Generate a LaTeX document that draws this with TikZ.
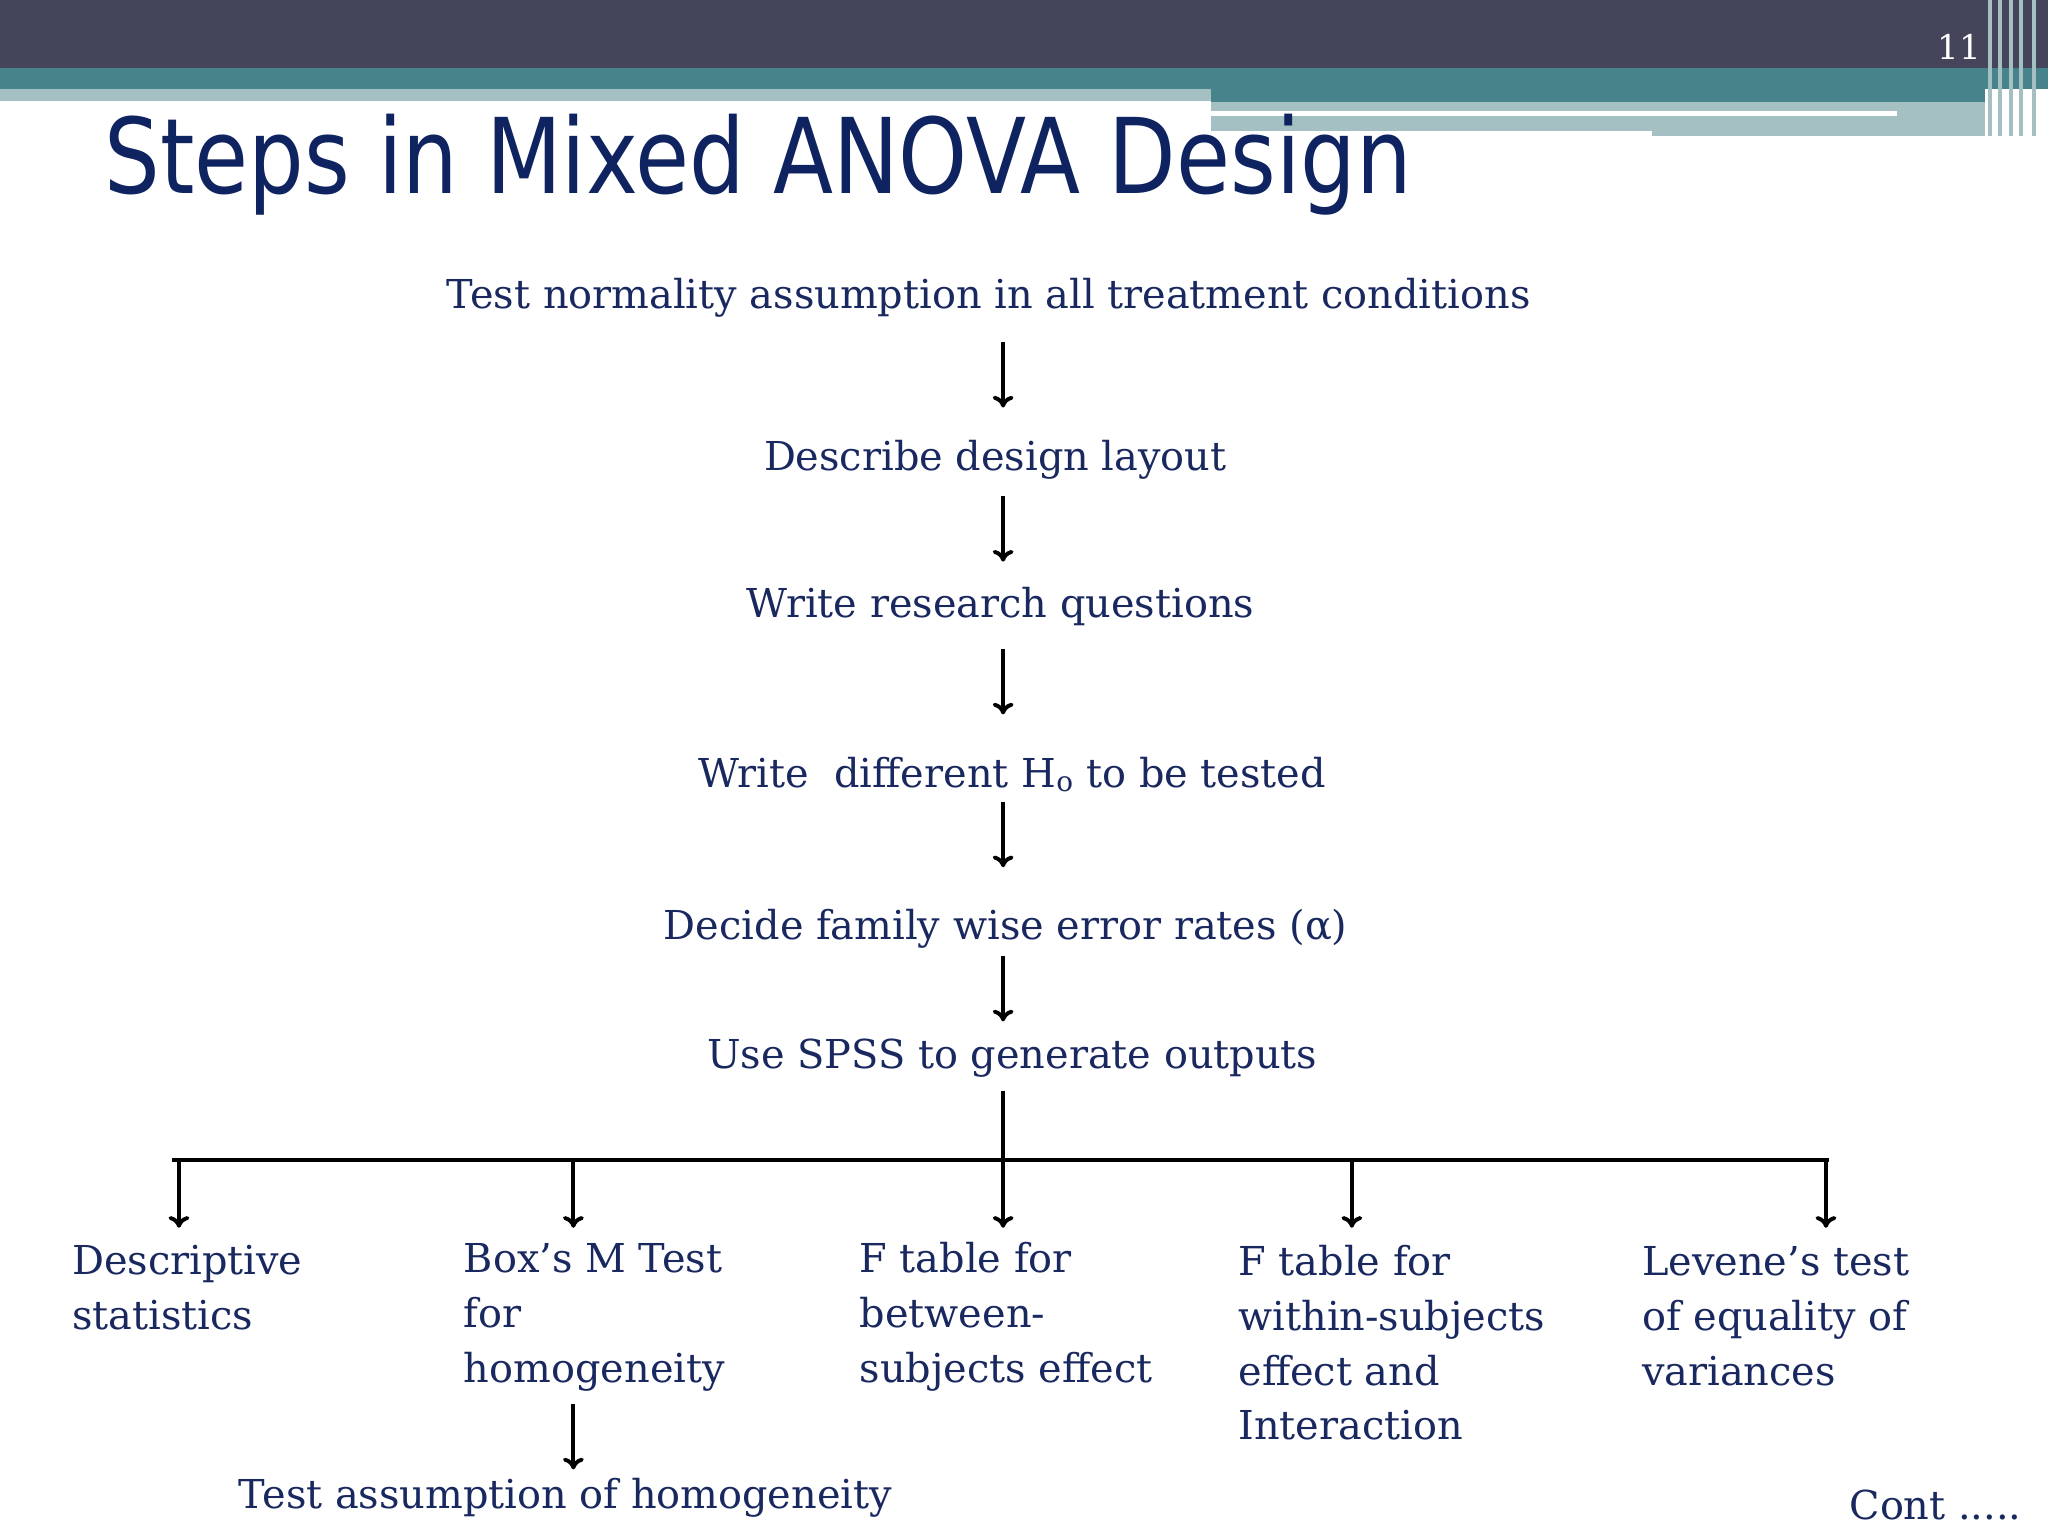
\documentclass[tikz,border=0pt]{standalone}
\usepackage{fontspec}
\setmainfont{DejaVu Serif}
\newfontfamily\titlefont[FakeStretch=0.84]{DejaVu Sans}
\usetikzlibrary{arrows.meta}
\definecolor{navy}{HTML}{1A2860}
\definecolor{tnavy}{HTML}{0E2360}
\definecolor{darkbar}{HTML}{44445A}
\definecolor{teal}{HTML}{47838A}
\definecolor{lteal}{HTML}{A5C0C3}
\begin{document}
\begin{tikzpicture}[x=1pt,y=-1pt,
  txt/.style={text=navy,font=\fontsize{30.5}{42}\selectfont,inner sep=0pt},
  blk/.style={txt,align=left,anchor=north west},
  arr/.style={line width=3.2pt,-{To[length=9pt,width=16pt,line width=3pt]}},
  ln/.style={line width=3.2pt}]
\useasboundingbox (0,0) rectangle (1568,1176);
\fill[white] (0,0) rectangle (1568,1176);
% header
\fill[darkbar] (0,0) rectangle (1568,52);
\fill[teal] (0,52) rectangle (1568,68);
\fill[lteal] (0,68) rectangle (927,77);
\fill[teal] (927,68) rectangle (1520,78);
\fill[lteal] (927,78) rectangle (1520,104);
\fill[white] (927,85) rectangle (1452,89);
\fill[white] (927,100) rectangle (1265,104);
\foreach \x in {1522,1530,1538,1546,1556}{\fill[lteal] (\x,0) rectangle (\x+3,104);}
\node[text=white,font=\fontsize{26}{30}\selectfont,inner sep=0pt] (pg) at (1500,36) {11};
\node[text=tnavy,font=\titlefont\fontsize{80}{90}\selectfont,anchor=base west,inner sep=0pt] (title) at (80,148) {Steps in Mixed ANOVA Design};
% chain
\node[txt] (s1) at (757,228) {Test normality assumption in all treatment conditions};
\node[txt] (s2) at (762,352) {Describe design layout};
\node[txt] (s3) at (766,464) {Write research questions};
\node[txt] (s4) at (775,593) {Write\ \ different H\textsubscript{o} to be tested};
\node[txt] (s5) at (770,711) {Decide family wise error rates (α)};
\node[txt] (s6) at (775,810) {Use SPSS to generate outputs};
\foreach \a/\b in {262/312,380/430,497/547,614/664,732/782}{
  \coordinate (p\a) at (768,\a); \coordinate (q\a) at (768,\b);
  \draw[arr] (p\a) -- (q\a);}
\coordinate (top) at (768,835);
\coordinate (hl) at (132,888);
\coordinate (hr) at (1400,888);
\coordinate (hm) at (768,888);
\draw[ln] (top) -- (hm);
\draw[ln] (hl) -- (hr);
\node[blk] (b1) at (55,953) {Descriptive\\statistics};
\node[blk] (b2) at (355,952) {Box’s M Test\\for\\homogeneity};
\node[blk] (b3) at (658,951) {F table for\\between-\\subjects effect};
\node[blk] (b4) at (948,953) {F table for\\within-subjects\\effect and\\Interaction};
\node[blk] (b5) at (1257,954) {Levene’s test\\of equality of\\variances};
\foreach \x/\n in {137/1,439/2,768/3,1035/4,1398/5}{
  \coordinate (u\n) at (\x,888); \coordinate (d\n) at (\x,940);
  \draw[arr] (u\n) -- (d\n);}
\coordinate (bu) at (439,1075); \coordinate (bd) at (439,1125);
\draw[arr] (bu) -- (bd);
\node[txt] (ta) at (433,1147) {Test assumption of homogeneity};
\node[txt,anchor=east] (cont) at (1548,1152) {Cont .....};
\end{tikzpicture}
\end{document}
